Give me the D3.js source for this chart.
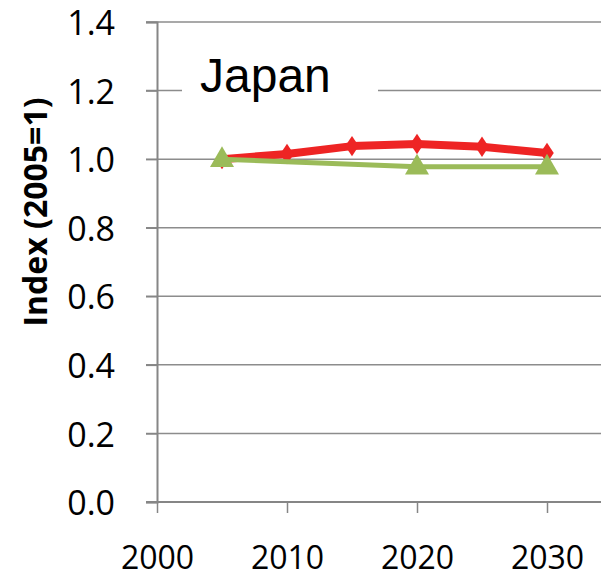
<!DOCTYPE html>
<html>
<head>
<meta charset="utf-8">
<script src="https://cdn.jsdelivr.net/npm/d3@7"></script>
<style>
  html, body { margin: 0; padding: 0; background: #fff; }
  svg { display: block; }
  text { font-family: "Open Sans", "Liberation Sans", sans-serif; fill: #000; }
</style>
</head>
<body>
<div id="chart"></div>
<script>
// Index values (2005 = 1) for Japan
const redYears = [2005, 2010, 2015, 2020, 2025, 2030];
const redValues = [1.0, 1.015, 1.038, 1.044, 1.036, 1.018];
const greenYears = [2005, 2020, 2030];
const greenValues = [1.0, 0.978, 0.978];
const yTicks = [0, 0.2, 0.4, 0.6, 0.8, 1.0, 1.2, 1.4];
const xTicks = [2000, 2010, 2020, 2030];
const chartTitle = "Japan";
const yLabel = "Index (2005=1)";

const W = 601, H = 579;
const svg = d3.select("#chart").append("svg").attr("width", W).attr("height", H);

const x = d3.scaleLinear().domain([2000, 2030]).range([157, 547]);
const y = d3.scaleLinear().domain([0, 1.4]).range([502, 22]);
const xEnd = W;

// horizontal gridlines
const grid = svg.append("g");
grid.selectAll("line").data(yTicks.filter(d => d > 0)).join("line")
  .attr("x1", 146).attr("x2", xEnd)
  .attr("y1", d => y(d)).attr("y2", d => y(d))
  .attr("stroke", "#8c8c8c").attr("stroke-width", 1.5);

// y axis
const yAxis = d3.axisLeft(y).tickValues(yTicks).tickSize(11).tickPadding(33)
  .tickFormat(d3.format(".1f"));
const gy = svg.append("g").attr("transform", `translate(157,0)`).call(yAxis);
gy.select(".domain").attr("stroke", "#868686").attr("stroke-width", 2);
gy.selectAll(".tick line").attr("stroke", "#868686").attr("stroke-width", 1.5);
gy.selectAll(".tick text").style("font-size", "34px").attr("dy", "0.37em").attr("x", -42);

// x axis
const xAxis = d3.axisBottom(x).tickValues(xTicks).tickSize(11).tickPadding(0)
  .tickFormat(d3.format("d"));
const gx = svg.append("g").attr("transform", `translate(0,502)`).call(xAxis);
gx.select(".domain").remove();
gx.append("line").attr("x1", 146).attr("x2", xEnd).attr("y1", 0).attr("y2", 0)
  .attr("stroke", "#868686").attr("stroke-width", 2);
gx.selectAll(".tick line").attr("stroke", "#868686").attr("stroke-width", 1.5);
gx.selectAll(".tick text").style("font-size", "32px").attr("y", 67).attr("dy", null);

// title with white background
svg.append("rect").attr("x", 182).attr("y", 48).attr("width", 196).attr("height", 60).attr("fill", "#fff");
svg.append("text").attr("x", 200).attr("y", 92).text(chartTitle)
  .style("font-family", "'Liberation Sans', Arial, sans-serif")
  .style("font-size", "48px");

// y label
svg.append("text")
  .attr("transform", `translate(47,212) rotate(-90)`)
  .attr("text-anchor", "middle")
  .style("font-size", "32px").style("font-weight", "bold")
  .text(yLabel);

const line = d3.line().x(d => x(d[0])).y(d => y(d[1]));

// red series
const redData = redYears.map((d, i) => [d, redValues[i]]);
svg.append("path").datum(redData).attr("d", line)
  .attr("fill", "none").attr("stroke", "#ee2424").attr("stroke-width", 8)
  .attr("stroke-linejoin", "round");
svg.append("g").selectAll("path").data(redData).join("path")
  .attr("d", d3.symbol(d3.symbolDiamond, 120))
  .attr("transform", d => `translate(${x(d[0])},${y(d[1])}) scale(1.15,1)`)
  .attr("fill", "#ee2424");

// green series
const greenData = greenYears.map((d, i) => [d, greenValues[i]]);
svg.append("path").datum(greenData).attr("d", line)
  .attr("fill", "none").attr("stroke", "#9bbb59").attr("stroke-width", 5);
svg.append("g").selectAll("path").data(greenData).join("path")
  .attr("d", d3.symbol(d3.symbolTriangle, 250))
  .attr("transform", d => `translate(${x(d[0])},${y(d[1]) + 1})`)
  .attr("fill", "#9bbb59");
</script>
</body>
</html>
